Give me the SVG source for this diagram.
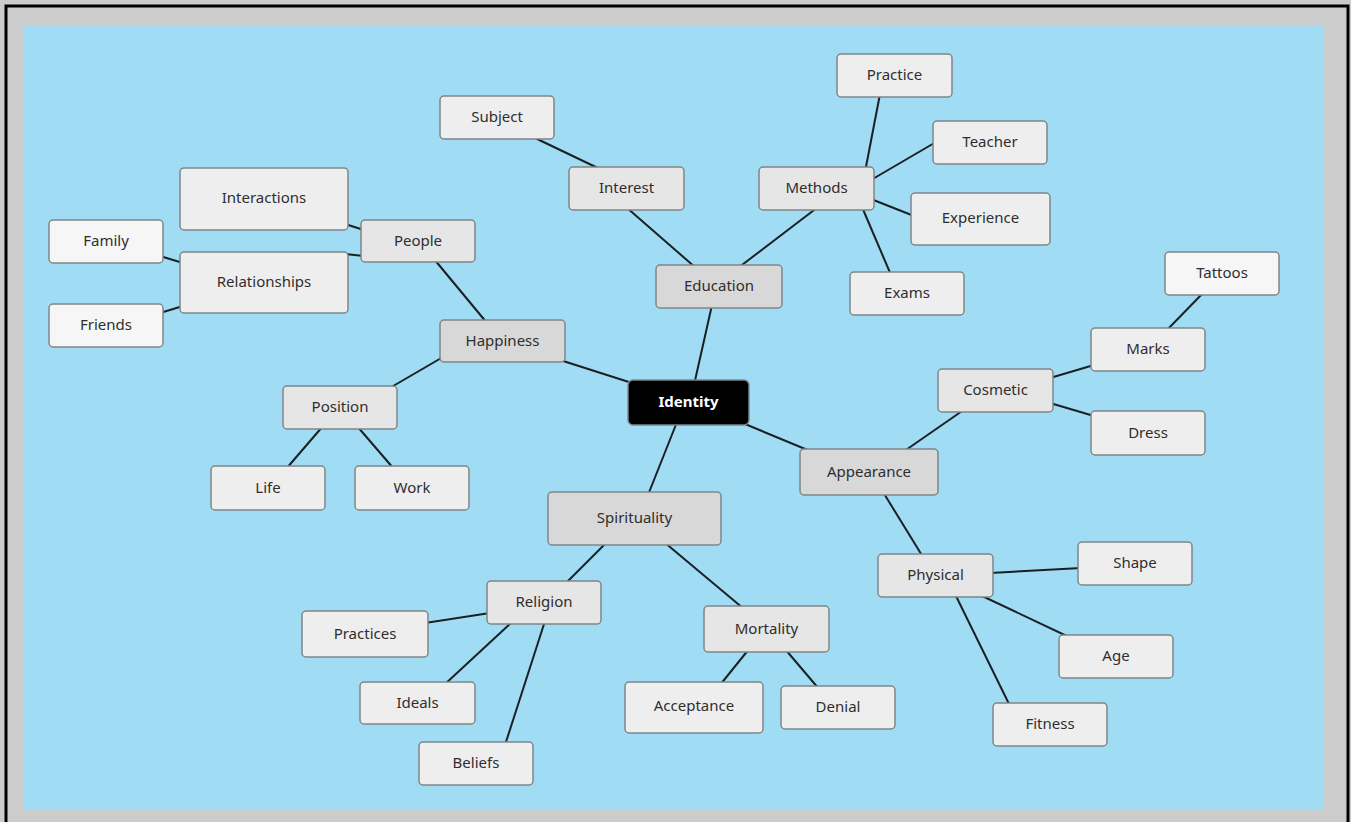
<svg xmlns="http://www.w3.org/2000/svg" width="1351" height="822" viewBox="0 0 1351 822">
<style>
.n rect{stroke:#7f8588;stroke-width:1.5}
.l1 rect{fill:#d8d8d8}
.l2 rect{fill:#e6e6e6}
.l3 rect{fill:#eeeeee}
.l4 rect{fill:#f6f6f6}
.n text{font-family:"Noto Sans","Open Sans",sans-serif;font-size:15px;fill:#2e2e2e;text-anchor:middle;dominant-baseline:central;transform:translateY(-1.5px)}
#edges line{stroke:#1a1f24;stroke-width:2}
</style>
<rect x="0" y="0" width="1351" height="822" fill="#cccccc"/>
<path d="M6 822 V6 H1348 V822" fill="none" stroke="#000" stroke-width="3"/>
<rect x="23" y="25" width="1300" height="784" fill="#a0ddf5"/>
<g id="edges">
<line x1="694" y1="385" x2="712" y2="305"/>
<line x1="632" y1="383" x2="560" y2="360"/>
<line x1="745" y1="424" x2="810" y2="451"/>
<line x1="677" y1="422" x2="648" y2="495"/>
<line x1="696" y1="268" x2="626" y2="207"/>
<line x1="738" y1="268" x2="818" y2="207"/>
<line x1="602" y1="170" x2="533" y2="137"/>
<line x1="865" y1="172" x2="880" y2="94"/>
<line x1="871" y1="180" x2="936" y2="142"/>
<line x1="871" y1="199" x2="914" y2="216"/>
<line x1="862" y1="207" x2="891" y2="275"/>
<line x1="487" y1="323" x2="434" y2="259"/>
<line x1="443" y1="357" x2="388" y2="389"/>
<line x1="364" y1="230" x2="345" y2="224"/>
<line x1="364" y1="256" x2="345" y2="254"/>
<line x1="183" y1="263" x2="160" y2="256"/>
<line x1="183" y1="306" x2="160" y2="313"/>
<line x1="323" y1="426" x2="286" y2="469"/>
<line x1="357" y1="426" x2="394" y2="469"/>
<line x1="903" y1="452" x2="965" y2="409"/>
<line x1="883" y1="492" x2="923" y2="557"/>
<line x1="1050" y1="378" x2="1094" y2="365"/>
<line x1="1050" y1="403" x2="1094" y2="416"/>
<line x1="1166" y1="331" x2="1204" y2="292"/>
<line x1="990" y1="573" x2="1081" y2="568"/>
<line x1="980" y1="595" x2="1071" y2="638"/>
<line x1="955" y1="594" x2="1010" y2="706"/>
<line x1="607" y1="542" x2="565" y2="584"/>
<line x1="664" y1="542" x2="744" y2="609"/>
<line x1="490" y1="613" x2="425" y2="623"/>
<line x1="513" y1="621" x2="444" y2="685"/>
<line x1="545" y1="621" x2="505" y2="745"/>
<line x1="749" y1="649" x2="720" y2="685"/>
<line x1="785" y1="649" x2="819" y2="689"/>
</g>
<g id="identity" class="n"><rect x="628" y="380" width="121" height="45" rx="5" fill="#000" stroke="#333"/><text x="688.5" y="402.5" style="fill:#fff;font-weight:bold">Identity</text></g>
<g id="education" class="n l1"><rect x="656" y="265" width="126" height="43" rx="4"/><text x="719" y="286.5">Education</text></g>
<g id="happiness" class="n l1"><rect x="440" y="320" width="125" height="42" rx="4"/><text x="502.5" y="341">Happiness</text></g>
<g id="appearance" class="n l1"><rect x="800" y="449" width="138" height="46" rx="4"/><text x="869" y="472">Appearance</text></g>
<g id="spirituality" class="n l1"><rect x="548" y="492" width="173" height="53" rx="4"/><text x="634.5" y="518">Spirituality</text></g>
<g id="interest" class="n l2"><rect x="569" y="167" width="115" height="43" rx="4"/><text x="626.5" y="188.5">Interest</text></g>
<g id="methods" class="n l2"><rect x="759" y="167" width="115" height="43" rx="4"/><text x="816.5" y="188.5">Methods</text></g>
<g id="people" class="n l2"><rect x="361" y="220" width="114" height="42" rx="4"/><text x="418" y="241">People</text></g>
<g id="position" class="n l2"><rect x="283" y="386" width="114" height="43" rx="4"/><text x="340" y="407.5">Position</text></g>
<g id="cosmetic" class="n l2"><rect x="938" y="369" width="115" height="43" rx="4"/><text x="995.5" y="390.5">Cosmetic</text></g>
<g id="physical" class="n l2"><rect x="878" y="554" width="115" height="43" rx="4"/><text x="935.5" y="575.5">Physical</text></g>
<g id="religion" class="n l2"><rect x="487" y="581" width="114" height="43" rx="4"/><text x="544" y="602.5">Religion</text></g>
<g id="mortality" class="n l2"><rect x="704" y="606" width="125" height="46" rx="4"/><text x="766.5" y="629">Mortality</text></g>
<g id="subject" class="n l3"><rect x="440" y="96" width="114" height="43" rx="4"/><text x="497" y="117.5">Subject</text></g>
<g id="practice" class="n l3"><rect x="837" y="54" width="115" height="43" rx="4"/><text x="894.5" y="75.5">Practice</text></g>
<g id="teacher" class="n l3"><rect x="933" y="121" width="114" height="43" rx="4"/><text x="990" y="142.5">Teacher</text></g>
<g id="experience" class="n l3"><rect x="911" y="193" width="139" height="52" rx="4"/><text x="980.5" y="218">Experience</text></g>
<g id="exams" class="n l3"><rect x="850" y="272" width="114" height="43" rx="4"/><text x="907" y="293.5">Exams</text></g>
<g id="interactions" class="n l3"><rect x="180" y="168" width="168" height="62" rx="4"/><text x="264" y="198">Interactions</text></g>
<g id="relationships" class="n l3"><rect x="180" y="252" width="168" height="61" rx="4"/><text x="264" y="282">Relationships</text></g>
<g id="family" class="n l4"><rect x="49" y="220" width="114" height="43" rx="4"/><text x="106" y="241.5">Family</text></g>
<g id="friends" class="n l4"><rect x="49" y="304" width="114" height="43" rx="4"/><text x="106" y="325.5">Friends</text></g>
<g id="life" class="n l3"><rect x="211" y="466" width="114" height="44" rx="4"/><text x="268" y="488">Life</text></g>
<g id="work" class="n l3"><rect x="355" y="466" width="114" height="44" rx="4"/><text x="412" y="488">Work</text></g>
<g id="tattoos" class="n l4"><rect x="1165" y="252" width="114" height="43" rx="4"/><text x="1222" y="273.5">Tattoos</text></g>
<g id="marks" class="n l3"><rect x="1091" y="328" width="114" height="43" rx="4"/><text x="1148" y="349.5">Marks</text></g>
<g id="dress" class="n l3"><rect x="1091" y="411" width="114" height="44" rx="4"/><text x="1148" y="433">Dress</text></g>
<g id="shape" class="n l3"><rect x="1078" y="542" width="114" height="43" rx="4"/><text x="1135" y="563.5">Shape</text></g>
<g id="age" class="n l3"><rect x="1059" y="635" width="114" height="43" rx="4"/><text x="1116" y="656.5">Age</text></g>
<g id="fitness" class="n l3"><rect x="993" y="703" width="114" height="43" rx="4"/><text x="1050" y="724.5">Fitness</text></g>
<g id="practices" class="n l3"><rect x="302" y="611" width="126" height="46" rx="4"/><text x="365" y="634">Practices</text></g>
<g id="ideals" class="n l3"><rect x="360" y="682" width="115" height="42" rx="4"/><text x="417.5" y="703">Ideals</text></g>
<g id="beliefs" class="n l3"><rect x="419" y="742" width="114" height="43" rx="4"/><text x="476" y="763.5">Beliefs</text></g>
<g id="acceptance" class="n l3"><rect x="625" y="682" width="138" height="51" rx="4"/><text x="694" y="706">Acceptance</text></g>
<g id="denial" class="n l3"><rect x="781" y="686" width="114" height="43" rx="4"/><text x="838" y="707.5">Denial</text></g>
</svg>
